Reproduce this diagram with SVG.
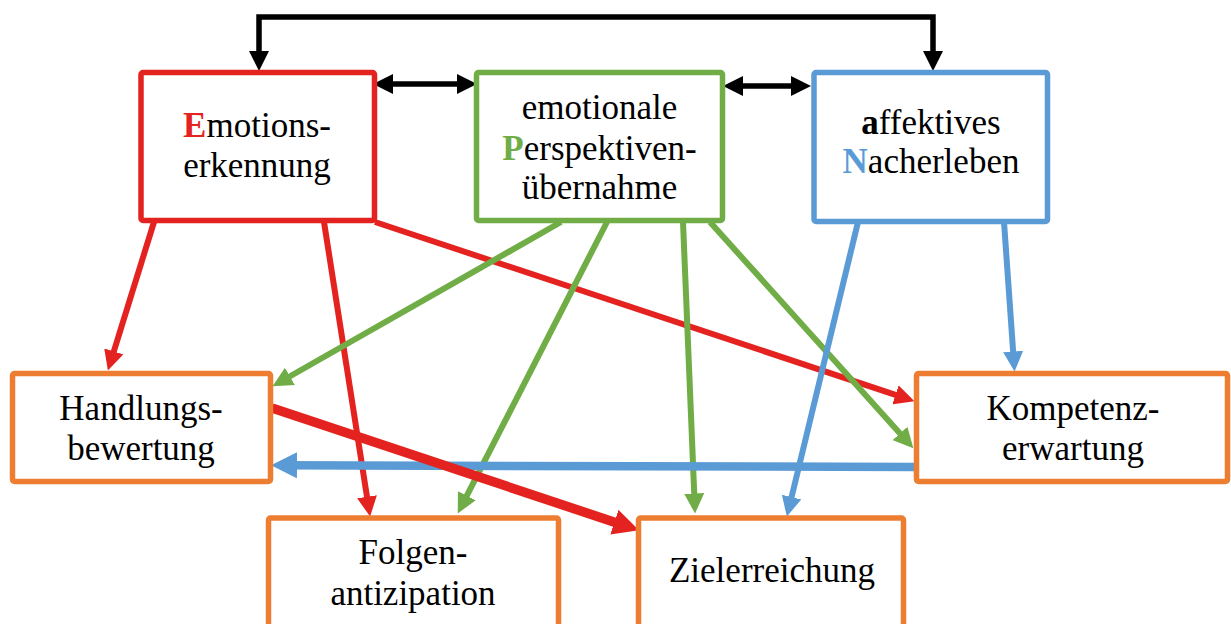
<svg xmlns="http://www.w3.org/2000/svg" width="1231" height="624" viewBox="0 0 1231 624">
<style>
.box{fill:#fff;stroke-width:5.5}
.t{font-family:"Liberation Serif","Times New Roman",serif;font-size:35px;fill:#000;text-anchor:middle}
.b{font-weight:bold}
.c{fill:none;stroke-linecap:butt;stroke-linejoin:miter}
</style>
<defs>
<marker id="aK" markerUnits="userSpaceOnUse" markerWidth="20" markerHeight="20" refX="14" refY="10" orient="auto-start-reverse" viewBox="0 0 20 20"><path d="M0,0 L20,10 L0,20 z" fill="#000"/></marker>
<marker id="aR" markerUnits="userSpaceOnUse" markerWidth="20" markerHeight="20" refX="13.5" refY="10" orient="auto" viewBox="0 0 20 20"><path d="M0,0 L20,10 L0,20 z" fill="#E42320"/></marker>
<marker id="aRL" markerUnits="userSpaceOnUse" markerWidth="26" markerHeight="26" refX="16" refY="13" orient="auto" viewBox="0 0 26 26"><path d="M0,0 L26,13 L0,26 z" fill="#E42320"/></marker>
<marker id="aG" markerUnits="userSpaceOnUse" markerWidth="20" markerHeight="20" refX="13.5" refY="10" orient="auto" viewBox="0 0 20 20"><path d="M0,0 L20,10 L0,20 z" fill="#70AD47"/></marker>
<marker id="aB" markerUnits="userSpaceOnUse" markerWidth="20" markerHeight="20" refX="13.5" refY="10" orient="auto" viewBox="0 0 20 20"><path d="M0,0 L20,10 L0,20 z" fill="#5B9BD5"/></marker>
<marker id="aBL" markerUnits="userSpaceOnUse" markerWidth="26" markerHeight="26" refX="16" refY="13" orient="auto" viewBox="0 0 26 26"><path d="M0,0 L26,13 L0,26 z" fill="#5B9BD5"/></marker>
</defs>
<rect width="1231" height="624" fill="#fff"/>

<g id="connectors">
<path class="c" d="M259,65 V17 H933 V65" stroke="#000" stroke-width="5.5" marker-start="url(#aK)" marker-end="url(#aK)"/>
<path class="c" d="M379,84 H471" stroke="#000" stroke-width="5.5" marker-start="url(#aK)" marker-end="url(#aK)"/>
<path class="c" d="M729,86 H805" stroke="#000" stroke-width="5.5" marker-start="url(#aK)" marker-end="url(#aK)"/>
<path class="c" d="M154,222 L109.8,364.3" stroke="#E42320" stroke-width="6" marker-end="url(#aR)"/>
<path class="c" d="M324,222 L369.1,510.1" stroke="#E42320" stroke-width="6" marker-end="url(#aR)"/>
<path class="c" d="M375,222 L908.3,399.1" stroke="#E42320" stroke-width="6" marker-end="url(#aR)"/>
<path class="c" d="M561,222 L278.2,383" stroke="#70AD47" stroke-width="6" marker-end="url(#aG)"/>
<path class="c" d="M607,222 L460.7,507.7" stroke="#70AD47" stroke-width="6" marker-end="url(#aG)"/>
<path class="c" d="M683,222 L694.8,507" stroke="#70AD47" stroke-width="6" marker-end="url(#aG)"/>
<path class="c" d="M710,222 L909,443.5" stroke="#70AD47" stroke-width="6" marker-end="url(#aG)"/>
<path class="c" d="M858,222 L788.4,510.2" stroke="#5B9BD5" stroke-width="6" marker-end="url(#aB)"/>
<path class="c" d="M1004,222 L1014.1,365" stroke="#5B9BD5" stroke-width="6" marker-end="url(#aB)"/>
<path class="c" d="M914,467 L281,465.3" stroke="#5B9BD5" stroke-width="8.5" marker-end="url(#aBL)"/>
<path class="c" d="M272,408 L629.5,527.2" stroke="#E42320" stroke-width="9.5" marker-end="url(#aRL)"/>
</g>

<g id="emotionserkennung">
<rect class="box" x="141" y="72.5" width="233.5" height="148" rx="2" stroke="#E42320"/>
<text class="t" x="257" y="137"><tspan class="b" fill="#E42320">E</tspan>motions-</text>
<text class="t" x="257" y="177">erkennung</text>
</g>
<g id="perspektivenuebernahme">
<rect class="box" x="476.5" y="72.5" width="246" height="148" rx="2" stroke="#70AD47"/>
<text class="t" x="599.5" y="119">emotionale</text>
<text class="t" x="599.5" y="159.5"><tspan class="b" fill="#70AD47">P</tspan>erspektiven-</text>
<text class="t" x="599.5" y="199">übernahme</text>
</g>
<g id="nacherleben">
<rect class="box" x="814" y="72.5" width="233.5" height="149" rx="2" stroke="#5B9BD5"/>
<text class="t" x="931" y="133.5"><tspan class="b">a</tspan>ffektives</text>
<text class="t" x="931" y="172.5"><tspan class="b" fill="#5B9BD5">N</tspan>acherleben</text>
</g>
<g id="handlungsbewertung">
<rect class="box" x="12.5" y="373.5" width="258" height="108" rx="2" stroke="#ED7D31"/>
<text class="t" x="141" y="419.5">Handlungs-</text>
<text class="t" x="141" y="459.5">bewertung</text>
</g>
<g id="kompetenzerwartung">
<rect class="box" x="916.5" y="373.5" width="311" height="108" rx="2" stroke="#ED7D31"/>
<text class="t" x="1073" y="419.5">Kompetenz-</text>
<text class="t" x="1073" y="459.5">erwartung</text>
</g>
<g id="folgenantizipation">
<rect class="box" x="268.5" y="518" width="290" height="130" rx="2" stroke="#ED7D31"/>
<text class="t" x="413" y="564">Folgen-</text>
<text class="t" x="413" y="605">antizipation</text>
</g>
<g id="zielerreichung">
<rect class="box" x="638.5" y="518" width="265" height="130" rx="2" stroke="#ED7D31"/>
<text class="t" x="772" y="582">Zielerreichung</text>
</g>
</svg>
